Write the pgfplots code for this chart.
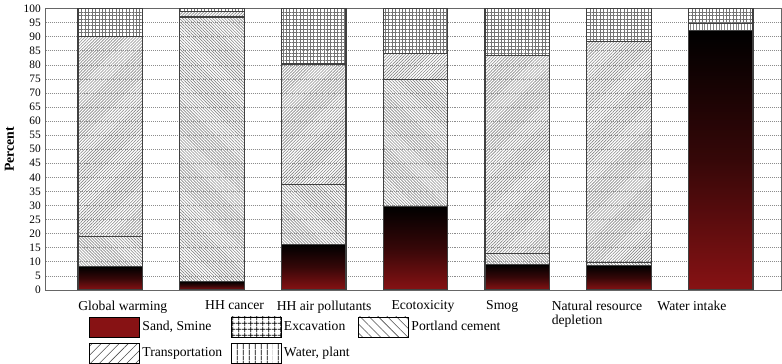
\documentclass[border=0pt]{standalone}
\usepackage{pgfplots}
\pgfplotsset{compat=1.18}
\usepackage{pgfplotstable}
\usetikzlibrary{patterns.meta}
\usepackage{fontspec}
\setmainfont{Liberation Serif}
\definecolor{sandred}{RGB}{135,18,20}
\definecolor{hatch}{RGB}{135,135,135}
\pgfplotstableread{
x sand portland transport water excav
0 8.2 10.8 71.0 0 10.0
1 3.0 94.0 1.9 0 1.1
2 16.1 21.5 42.7 0 19.7
3 29.7 45.2 9.0 0 16.1
4 9.0 3.8 70.4 0 16.8
5 8.6 1.1 78.5 0 11.8
6 92.1 0 0 2.7 5.2
}\datatable
\newcommand{\legbox}[1]{\addlegendimage{legend image code/.code={\draw[#1] (0pt,-7pt) rectangle (35pt,7pt);}}}
\begin{document}
\begin{tikzpicture}
\begin{axis}[
  scale only axis,
  width=518pt, height=198pt,
  ybar stacked,
  bar width=0.634,
  xmin=-0.634, xmax=6.6,
  ymin=0, ymax=100,
  ytick={0,5,...,100},
  ymajorgrids,
  major grid style={densely dotted, black!45},
  axis line style={black!60},
  xtick={-0.317,0.931,1.634,2.762,3.693,4.337,5.376},
  xticklabels={Global warming, HH cancer, HH air pollutants, Ecotoxicity, Smog, {Natural resource\\depletion}, Water intake},
  xticklabel style={anchor=north west, align=left, inner xsep=0pt, font=\fontsize{9.6}{10.5}\selectfont, yshift=-4pt},
  yticklabel style={font=\fontsize{8}{9}\selectfont},
  /pgf/number format/assume math mode=true,
  xtick style={draw=none},
  ytick style={draw=none},
  ylabel={\textbf{Percent}},
  ylabel style={font=\fontsize{9.7}{11}\selectfont},
  legend columns=3,
  legend style={at={(axis description cs:0.0588,-0.094)}, anchor=north west, draw=none, fill=none, inner sep=0pt,
    font=\fontsize{9.6}{10.5}\selectfont,
    /tikz/every even column/.append style={column sep=4pt},
    row sep=4pt},
  legend cell align=left,
]
\legbox{fill=sandred, draw=black}
\addlegendentry{Sand, Smine}
\legbox{draw=black, pattern={Hatch[angle=0, distance=4pt, line width=0.45pt]}, pattern color=black}
\addlegendentry{Excavation}
\legbox{draw=black, pattern={Lines[angle=-45, distance=4.5pt, line width=0.4pt]}, pattern color=black!70}
\addlegendentry{Portland cement}
\legbox{draw=black, pattern={Lines[angle=45, distance=4.5pt, line width=0.4pt]}, pattern color=black!70}
\addlegendentry{Transportation}
\legbox{draw=black, pattern={Lines[angle=90, distance=4pt, line width=0.45pt]}, pattern color=black}
\addlegendentry{Water, plant}

\addplot[forget plot, draw=none, fill=none] table[x=x, y=sand] {\datatable};
\addplot[forget plot, draw=black!75, line width=0.8pt, pattern={Lines[angle=-45, distance=1.5pt, line width=0.45pt]}, pattern color=hatch] table[x=x, y=portland] {\datatable};
\addplot[forget plot, draw=black!75, line width=0.8pt, pattern={Lines[angle=45, distance=1.5pt, line width=0.45pt]}, pattern color=hatch] table[x=x, y=transport] {\datatable};
\addplot[forget plot, draw=black!75, line width=0.8pt, pattern={Lines[angle=90, distance=2pt, line width=0.5pt]}, pattern color=hatch] table[x=x, y=water] {\datatable};
\addplot[forget plot, draw=black!75, line width=0.8pt, pattern={Hatch[angle=0, distance=2.4pt, line width=0.5pt]}, pattern color=black!55] table[x=x, y=excav] {\datatable};
\pgfplotsset{sandbar/.style={forget plot, stack plots=false, draw=black!75, line width=0.8pt, top color=black, bottom color=sandred, middle color=sandred!40!black}}
\addplot[sandbar] coordinates {(0,8.2)};
\addplot[sandbar] coordinates {(1,3.0)};
\addplot[sandbar] coordinates {(2,16.1)};
\addplot[sandbar] coordinates {(3,29.7)};
\addplot[sandbar] coordinates {(4,9.0)};
\addplot[sandbar] coordinates {(5,8.6)};
\addplot[sandbar] coordinates {(6,92.1)};
\end{axis}
\end{tikzpicture}
\end{document}
